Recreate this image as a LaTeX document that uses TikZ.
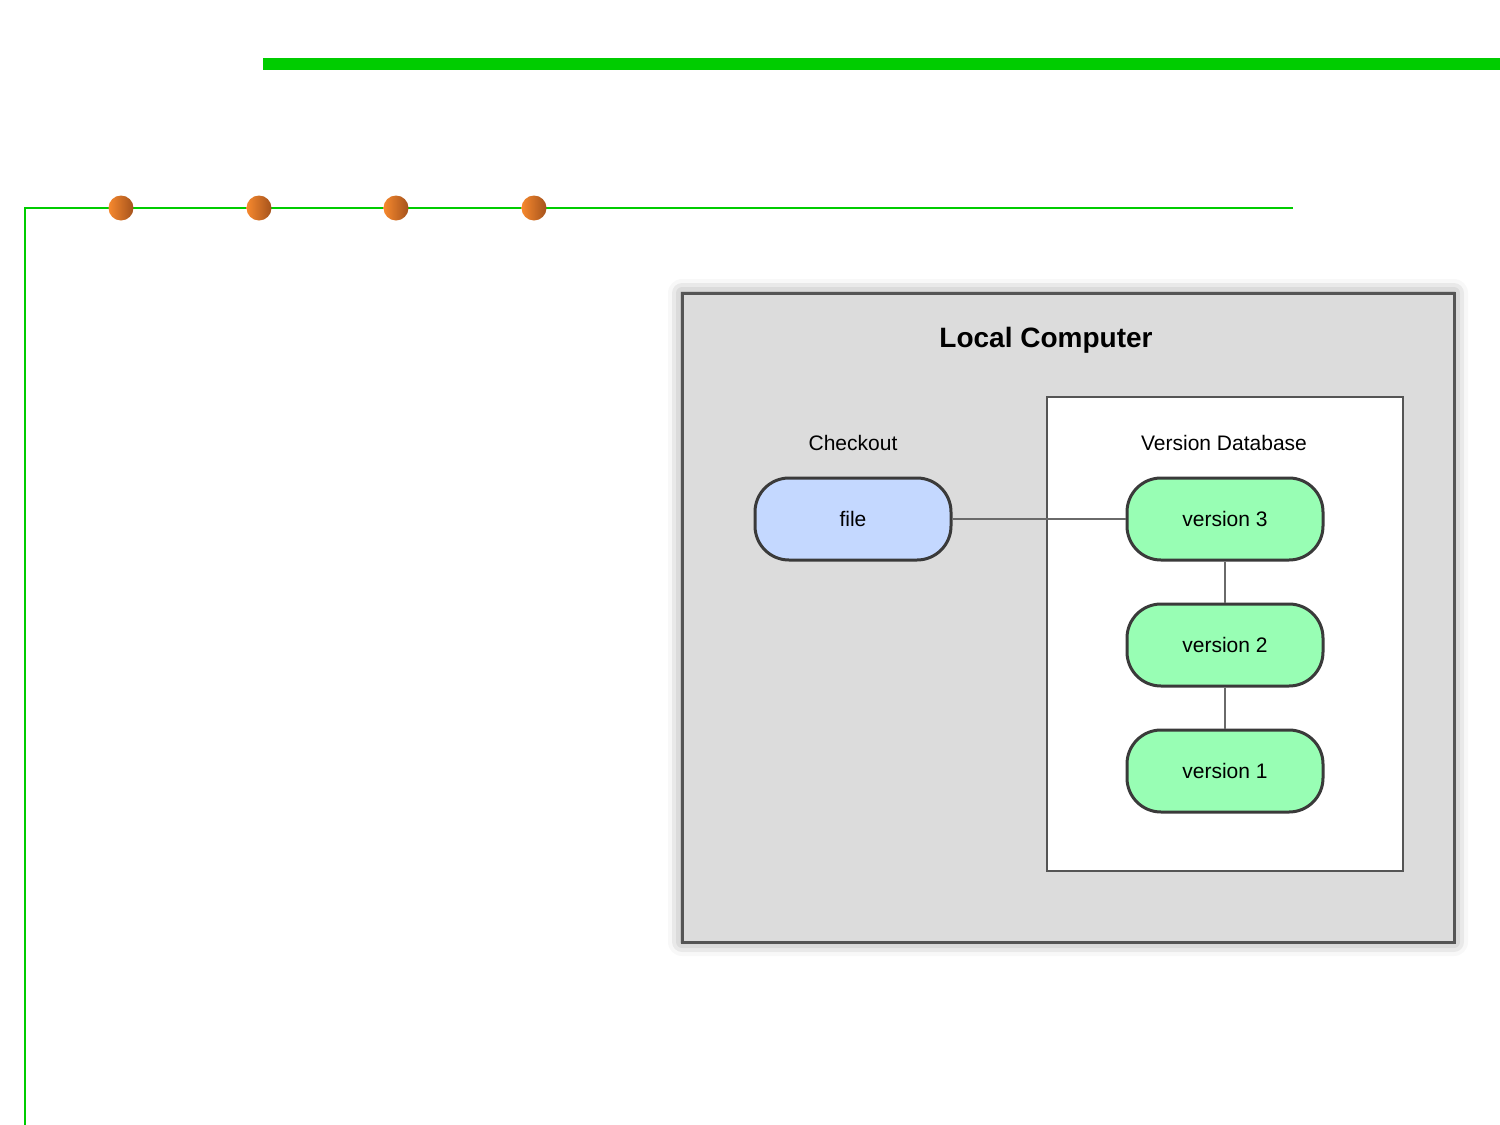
\documentclass[tikz,border=0pt]{standalone}
\usepackage{fontspec}
\setmainfont{Liberation Sans}
\usetikzlibrary{shadows.blur}
\definecolor{grn}{HTML}{00CC00}
\definecolor{dotL}{HTML}{F7892E}
\definecolor{dotR}{HTML}{A4521C}
\definecolor{boxfill}{HTML}{DCDCDC}
\definecolor{boxline}{HTML}{555555}
\definecolor{filefill}{HTML}{C4D8FF}
\definecolor{verfill}{HTML}{98FEB4}
\definecolor{nodeline}{HTML}{3A3A3A}
\definecolor{conn}{HTML}{6A6A6A}
\begin{document}
\begin{tikzpicture}[x=0.5pt,y=-0.5pt,
  dot/.style={circle,minimum size=12.5pt,inner sep=0pt,shading=axis,left color=dotL,right color=dotR,shading angle=90},
  pill/.style={draw=nodeline,line width=1.5pt,rounded corners=17pt,minimum width=98pt,minimum height=41pt,inner sep=0pt,font=\fontsize{10.5}{12}\selectfont},
  lbl/.style={font=\fontsize{10.5}{12}\selectfont,inner sep=0pt},
  link/.style={draw=conn,line width=1pt}]
\useasboundingbox (0,0) rectangle (1500,1125);
% decorative lines
\draw[grn,line width=6pt] (263,64) -- (1500,64);
\draw[grn,line width=1pt] (25,1125) -- (25,208) -- (1293,208);
\foreach \x/\n in {121/d1,259/d2,396/d3,534/d4}
  \node[dot] (\n) at (\x,208) {};
% outer box
\node[draw=boxline,line width=1.5pt,fill=boxfill,minimum width=386pt,minimum height=324.5pt,inner sep=0pt,
  blur shadow={shadow xshift=0pt,shadow yshift=0pt,shadow blur radius=7pt,shadow opacity=45}] (local) at (1068,617.5) {};
\node[font=\bfseries\fontsize{14}{16}\selectfont,inner sep=0pt] (title) at (1046,340) {Local Computer};
% inner db box
\node[draw=boxline,line width=1pt,fill=white,minimum width=178pt,minimum height=237pt,inner sep=0pt] (db) at (1225,634) {};
\node[lbl] (co) at (853,443) {Checkout};
\node[lbl] (vdb) at (1224,443) {Version Database};
% nodes
\node[pill,fill=filefill] (file) at (853,519) {file};
\node[pill,fill=verfill] (v3) at (1225,519) {version 3};
\node[pill,fill=verfill] (v2) at (1225,645) {version 2};
\node[pill,fill=verfill] (v1) at (1225,771) {version 1};
% connectors
\draw[link] (file) -- (v3);
\draw[link] (v3) -- (v2);
\draw[link] (v2) -- (v1);
\end{tikzpicture}
\end{document}
